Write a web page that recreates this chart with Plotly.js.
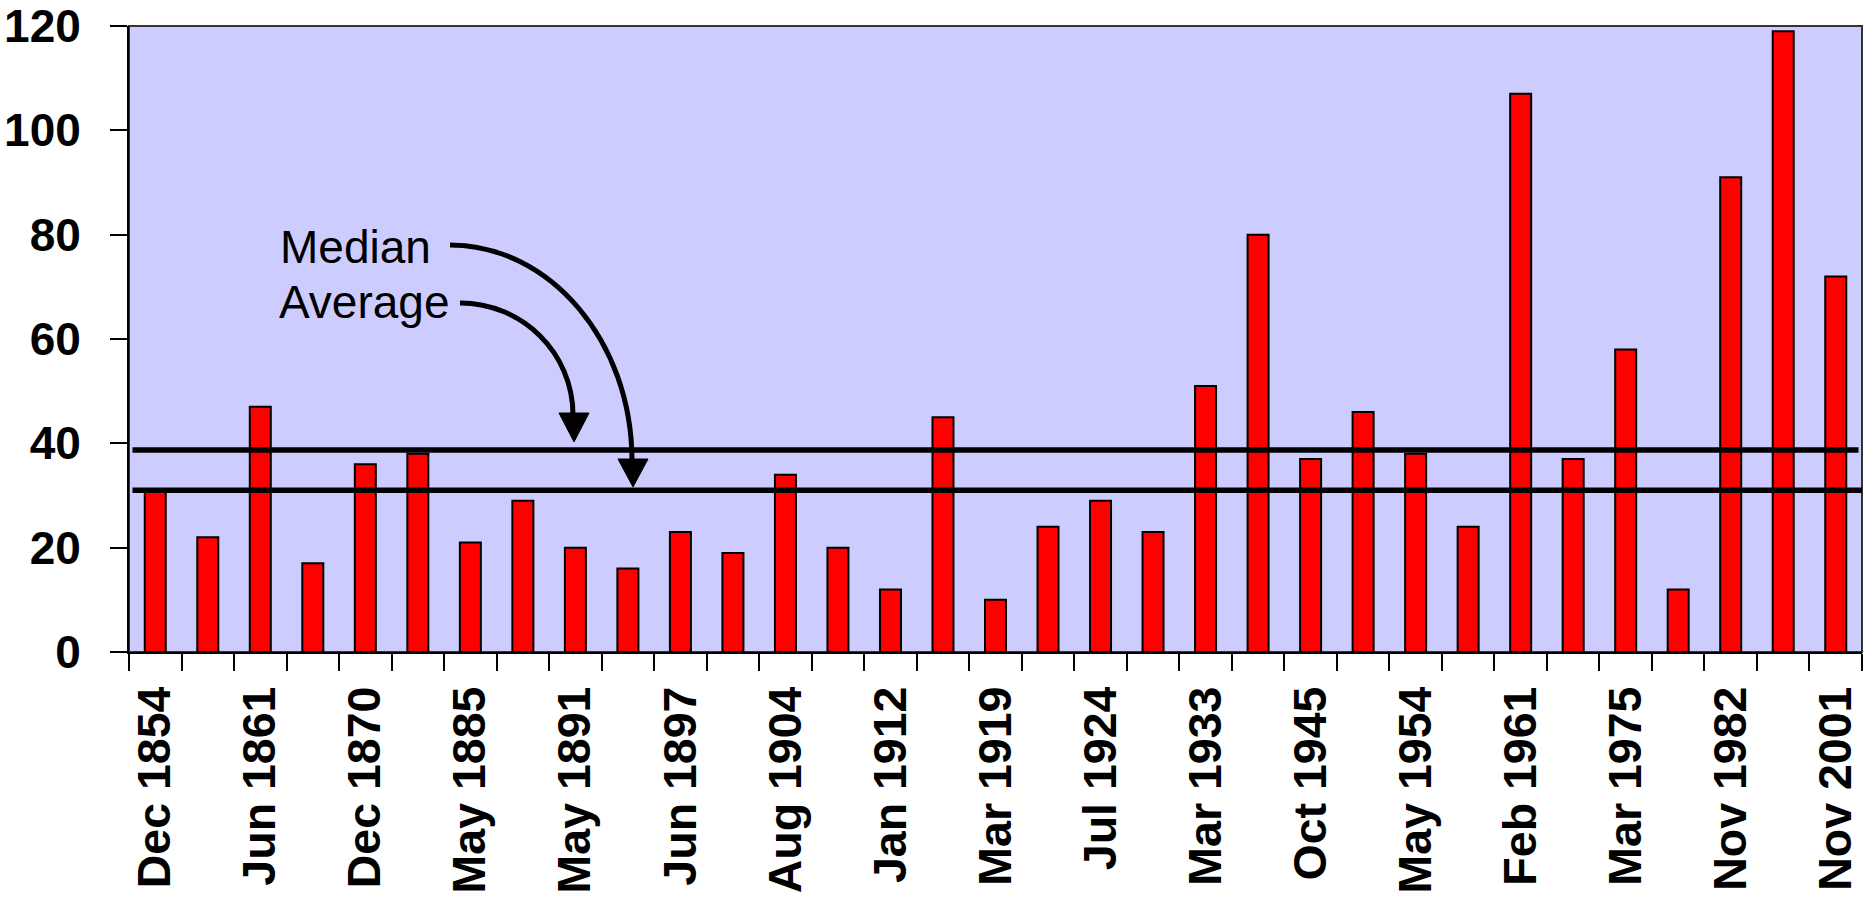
<!DOCTYPE html>
<html>
<head>
<meta charset="utf-8">
<script src="https://cdn.plot.ly/plotly-3.0.1.min.js"></script>
<style>html,body{margin:0;padding:0;background:#fff;}#chart{width:1864px;height:900px;}</style>
</head>
<body>
<div id="chart"></div>
<script>
// Expansion lengths (months), one bar per expansion
const months = [31,22,47,17,36,38,21,29,20,16,23,19,34,20,12,45,10,24,29,23,51,80,37,46,38,24,107,37,58,12,91,119,72];
// Tick labels shown under every second bar
const tickLabels = ['Dec 1854','Jun 1861','Dec 1870','May 1885','May 1891','Jun 1897','Aug 1904','Jan 1912','Mar 1919','Jul 1924','Mar 1933','Oct 1945','May 1954','Feb 1961','Mar 1975','Nov 1982','Nov 2001'];
// Reference lines
const averageLevel = 38.7;
const medianLevel = 31;
const yTicks = [0,20,40,60,80,100,120];

const W = 1864, H = 900;
const M = {l:129, r:2, t:26, b:248};
const plotW = W - M.l - M.r, plotH = H - M.t - M.b;
const px = x => (x - M.l) / plotW;          // pixel -> paper x
const py = y => (H - M.b - y) / plotH;      // pixel -> paper y

const xIdx = months.map((_, i) => i);
const labelPos = tickLabels.map((_, j) => 2 * j);
const bounds = [];
for (let i = 0; i <= months.length; i++) bounds.push(i - 0.5);

const font = {family: '"Liberation Sans", Arial, sans-serif', color: '#000'};
const boldFont = Object.assign({}, font, {size: 46, weight: 'bold'});
const xBoldFont = Object.assign({}, font, {size: 46.5, weight: 'bold'});

function arcArrowPath(x0, y0, rx, ry) {
  const k = 0.5523;
  const x3 = x0 + rx, y3 = y0 + ry;
  return 'M ' + px(x0) + ',' + py(y0) +
    ' C ' + px(x0 + k * rx) + ',' + py(y0) + ' ' + px(x3) + ',' + py(y3 - k * ry) + ' ' + px(x3) + ',' + py(y3);
}
function triPath(xc, yb, half, tipY) {
  return 'M ' + px(xc - half) + ',' + py(yb) + ' L ' + px(xc + half) + ',' + py(yb) +
    ' L ' + px(xc) + ',' + py(tipY) + ' Z';
}

const trace = {
  type: 'bar', x: xIdx, y: months, width: 0.4,
  marker: {color: '#FF0000', line: {color: '#000', width: 2}},
  hoverinfo: 'skip'
};

const layout = {
  width: W, height: H, margin: M,
  paper_bgcolor: '#FFFFFF', plot_bgcolor: '#CCCCFF',
  showlegend: false, font: font, hovermode: false,
  xaxis: {
    range: [-0.5, months.length - 0.5], autorange: false, fixedrange: true,
    showgrid: false, zeroline: false,
    showline: true, linecolor: '#000', linewidth: 2,
    tickmode: 'array', tickvals: labelPos, ticktext: tickLabels,
    ticks: '', tickangle: -90, tickfont: xBoldFont, ticklabelstandoff: 14,
    minor: {tickmode: 'array', tickvals: bounds, ticks: 'outside', ticklen: 17, tickwidth: 2, tickcolor: '#000', showgrid: false}
  },
  yaxis: {
    range: [0, 120], autorange: false, fixedrange: true,
    tickmode: 'array', tickvals: yTicks,
    showgrid: false, zeroline: false,
    showline: true, linecolor: '#000', linewidth: 2,
    ticks: 'outside', ticklen: 17, tickwidth: 2, tickcolor: '#000',
    tickfont: boldFont, ticklabelstandoff: 20
  },
  shapes: [
    {type: 'rect', xref: 'paper', yref: 'paper', x0: 0, x1: 1, y0: 0, y1: 1, line: {color: '#333', width: 2}, layer: 'below'},
    {type: 'line', xref: 'paper', yref: 'y', x0: 0.002, x1: 0.998, y0: averageLevel, y1: averageLevel, line: {color: '#000', width: 5.5}},
    {type: 'line', xref: 'paper', yref: 'y', x0: 0.002, x1: 1, y0: medianLevel, y1: medianLevel, line: {color: '#000', width: 5.5}},
    {type: 'path', xref: 'paper', yref: 'paper', path: arcArrowPath(450, 245, 182, 216), line: {color: '#000', width: 5}},
    {type: 'path', xref: 'paper', yref: 'paper', path: triPath(633, 459, 15, 487), fillcolor: '#000', line: {color: '#000', width: 1}},
    {type: 'path', xref: 'paper', yref: 'paper', path: arcArrowPath(460, 303, 113, 112), line: {color: '#000', width: 5}},
    {type: 'path', xref: 'paper', yref: 'paper', path: triPath(574, 413, 15, 442), fillcolor: '#000', line: {color: '#000', width: 1}}
  ],
  annotations: [
    {xref: 'paper', yref: 'paper', x: px(278), y: py(247), xanchor: 'left', yanchor: 'middle', showarrow: false,
     text: 'Median', font: Object.assign({}, font, {size: 46})},
    {xref: 'paper', yref: 'paper', x: px(277), y: py(302), xanchor: 'left', yanchor: 'middle', showarrow: false,
     text: 'Average', font: Object.assign({}, font, {size: 46})}
  ]
};

Plotly.newPlot('chart', [trace], layout, {displayModeBar: false, staticPlot: true});
</script>
</body>
</html>
